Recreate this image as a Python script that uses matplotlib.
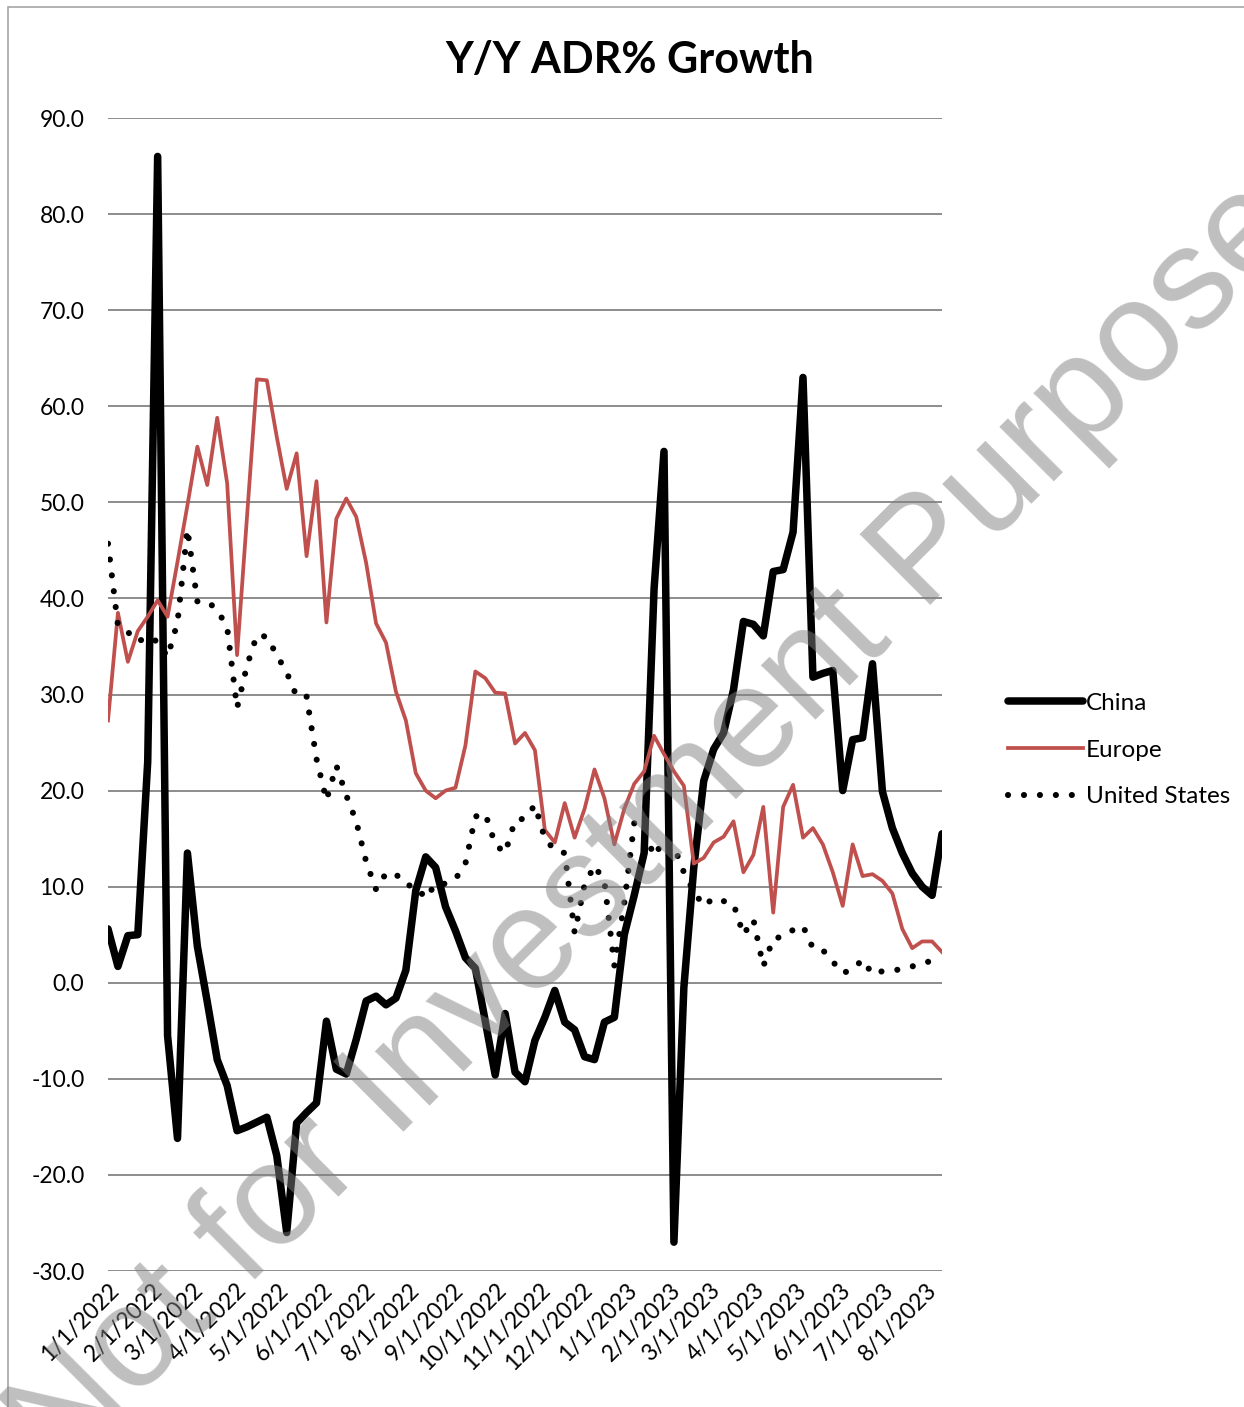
import numpy as np
import pandas as pd
import matplotlib
matplotlib.use("Agg")
import matplotlib.pyplot as plt
import matplotlib.dates as mdates
from matplotlib.ticker import FuncFormatter, MultipleLocator
from matplotlib.patches import Rectangle

# weekly Y/Y ADR % growth, weeks starting 1/1/2022
weeks = pd.date_range("2022-01-01", periods=85, freq="7D")

china = [5.6, 1.7, 4.9, 5.0, 23.0, 86.0, -5.5, -16.2, 13.5, 3.8,
         -2.0, -8.0, -10.7, -15.4, -15.0, -14.5, -14.0, -18.0, -26.0, -14.6,
         -13.5, -12.5, -4.0, -9.0, -9.5, -5.9, -1.9, -1.4, -2.3, -1.6,
         1.3, 9.6, 13.1, 12.0, 7.9, 5.4, 2.6, 1.5, -4.0, -9.6,
         -3.2, -9.3, -10.3, -6.0, -3.6, -0.8, -4.1, -4.9, -7.7, -8.0,
         -4.1, -3.6, 5.0, 9.1, 13.5, 41.0, 55.3, -27.0, -0.5, 12.0,
         21.0, 24.3, 26.0, 30.5, 37.6, 37.3, 36.1, 42.8, 43.0, 46.9,
         63.0, 31.8, 32.2, 32.5, 20.0, 25.3, 25.5, 33.2, 19.9, 16.1,
         13.5, 11.4, 10.0, 9.1, 15.5]

europe = [27.3, 38.5, 33.4, 36.6, 38.1, 39.8, 38.1, 43.8, 49.7, 55.8,
          51.8, 58.8, 52.0, 34.1, 48.5, 62.8, 62.7, 56.8, 51.4, 55.1,
          44.4, 52.2, 37.5, 48.3, 50.4, 48.5, 43.7, 37.4, 35.4, 30.3,
          27.3, 21.8, 20.0, 19.2, 20.0, 20.3, 24.7, 32.4, 31.7, 30.2,
          30.1, 24.9, 26.0, 24.2, 15.9, 14.6, 18.7, 15.1, 18.1, 22.2,
          19.2, 14.4, 18.1, 20.7, 22.0, 25.7, 23.8, 22.0, 20.5, 12.4,
          13.0, 14.6, 15.2, 16.8, 11.5, 13.3, 18.3, 7.3, 18.3, 20.6,
          15.1, 16.1, 14.4, 11.5, 8.0, 14.4, 11.1, 11.3, 10.6, 9.3,
          5.6, 3.6, 4.3, 4.3, 3.2]

us = [45.7, 37.2, 36.5, 35.5, 36.0, 35.5, 33.9, 37.5, 47.2, 39.7,
      39.7, 38.8, 37.0, 28.6, 33.0, 36.2, 36.0, 34.1, 32.3, 29.8,
      29.8, 23.3, 19.0, 22.6, 19.5, 16.8, 12.6, 9.7, 11.4, 11.3,
      10.2, 10.0, 8.8, 10.3, 10.3, 10.8, 12.4, 17.3, 17.6, 14.4,
      13.5, 16.9, 17.1, 18.5, 15.0, 13.8, 13.5, 5.2, 10.2, 12.2,
      10.5, 1.8, 8.3, 16.6, 15.8, 13.2, 14.8, 14.2, 11.5, 9.5,
      8.0, 8.8, 8.5, 8.2, 5.0, 6.6, 1.7, 4.6, 4.8, 5.5,
      5.9, 3.6, 3.4, 2.2, 1.0, 1.4, 2.4, 0.9, 1.2, 1.3,
      1.4, 1.7, 2.0, 2.3, np.nan]

plt.rcParams['font.family'] = ['Lato', 'DejaVu Sans']

W, H = 1244, 1407
fig = plt.figure(figsize=(W / 100, H / 100), dpi=100)
ax = fig.add_axes([108 / W, 1 - 1271 / H, (942 - 108) / W, (1271 - 118) / H])

ax.plot(weeks, china, color='black', lw=5.4, label='China', zorder=3,
        solid_joinstyle='round', solid_capstyle='round')
ax.plot(weeks, europe, color='#C0504D', lw=2.7, label='Europe', zorder=4)
ax.plot(weeks, us, color='black', lw=4.4, linestyle=(0, (0.01, 2.6)),
        dash_capstyle='round', label='United States', zorder=5)

ax.set_ylim(-30, 90)
ax.yaxis.set_major_locator(MultipleLocator(10))
ax.yaxis.set_major_formatter(FuncFormatter(lambda v, p: f"{v:.1f}"))
ax.set_xlim(weeks[0], weeks[-1])
ax.xaxis.set_major_locator(mdates.MonthLocator())
ax.xaxis.set_major_formatter(
    FuncFormatter(lambda v, p: "{d.month}/{d.day}/{d.year}".format(d=mdates.num2date(v))))

ax.grid(axis='y', color='#8c8c8c', lw=1.4)
ax.set_axisbelow(True)
for s in ax.spines.values():
    s.set_visible(False)
ax.tick_params(axis='both', length=0, labelsize=16.5, colors='black')
ax.tick_params(axis='y', pad=17)
ax.tick_params(axis='x', pad=6)
for lbl in ax.get_xticklabels():
    lbl.set_rotation(45)
    lbl.set_ha('right')
    lbl.set_va('top')
    lbl.set_rotation_mode('anchor')

fig.text(630 / W, 1 - 60 / H, "Y/Y ADR% Growth", fontsize=31, fontweight='bold',
         ha='center', va='center')

fig.legend(loc='center left', bbox_to_anchor=(986 / W, 1 - 750 / H), frameon=False,
           fontsize=17.5, handlelength=3.1, handletextpad=0.1, labelspacing=1.05)

# chart border
fig.patches.append(Rectangle((8 / W, -0.01), 1.02, 1 - 7 / H + 0.01, transform=fig.transFigure,
                             fill=False, edgecolor='#a6a6a6', lw=1.2))

# watermark
fig.text(655 / W, 1 - 828 / H, "Not for Investment Purpose", fontsize=104,
         family='Liberation Sans', color=(0.5, 0.5, 0.5), alpha=0.5, rotation=45,
         rotation_mode='anchor', ha='center', va='center', zorder=10)

fig.savefig("out.png", dpi=100)
